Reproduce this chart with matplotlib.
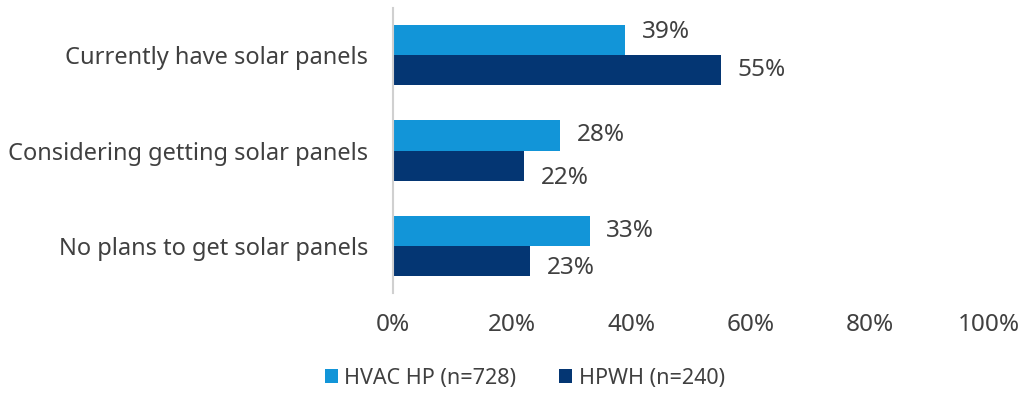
import matplotlib.pyplot as plt
import numpy as np

categories = ['Currently have solar panels', 'Considering getting solar panels', 'No plans to get solar panels']
hvac_hp = [39, 28, 33]
hpwh = [55, 22, 23]
series_names = ['HVAC HP (n=728)', 'HPWH (n=240)']
xticks = [0, 20, 40, 60, 80, 100]

plt.rcParams['font.family'] = ['Noto Sans', 'DejaVu Sans']
text_color = '#404040'

fig = plt.figure(figsize=(10.25, 3.94), dpi=100)
ax = fig.add_axes([0.3834, 0.256, 0.5815, 0.724])

y = np.arange(len(categories))
h = 0.316
b1 = ax.barh(y - h / 2, hvac_hp, height=h, color='#1295D8', label=series_names[0])
b2 = ax.barh(y + h / 2, hpwh, height=h, color='#043673', label=series_names[1])

# 数据标签，稍微错开避免挤在一起（单位：磅）
nudge1 = [6, 0, 0]
nudge2 = [0, -9, -5]
for bars, vals, nudge in [(b1, hvac_hp, nudge1), (b2, hpwh, nudge2)]:
    for bar, v, dy in zip(bars, vals, nudge):
        ax.annotate(f'{v}%', (v, bar.get_y() + bar.get_height() / 2),
                    xytext=(12, dy), textcoords='offset points',
                    va='center', ha='left', fontsize=17.5, color=text_color)

ax.set_xlim(0, 100)
ax.set_ylim(len(categories) - 0.5, -0.5)
ax.set_yticks(y)
ax.set_yticklabels(categories, fontsize=17, color=text_color)
ax.set_xticks(xticks)
ax.set_xticklabels([f'{t}%' for t in xticks], fontsize=17.5, color=text_color)
ax.tick_params(axis='both', length=0)
ax.tick_params(axis='y', pad=18)
ax.tick_params(axis='x', pad=14)

for s in ['top', 'right', 'bottom']:
    ax.spines[s].set_visible(False)
ax.spines['left'].set_color('#d0d0d0')
ax.spines['left'].set_linewidth(1.5)

fig.legend(loc='center', bbox_to_anchor=(0.512, 0.04), ncol=2, frameon=False,
           fontsize=15.5, handlelength=0.6, handleheight=0.6, handletextpad=0.3,
           columnspacing=2.0, labelcolor=text_color)

plt.savefig('out.png', dpi=100)
